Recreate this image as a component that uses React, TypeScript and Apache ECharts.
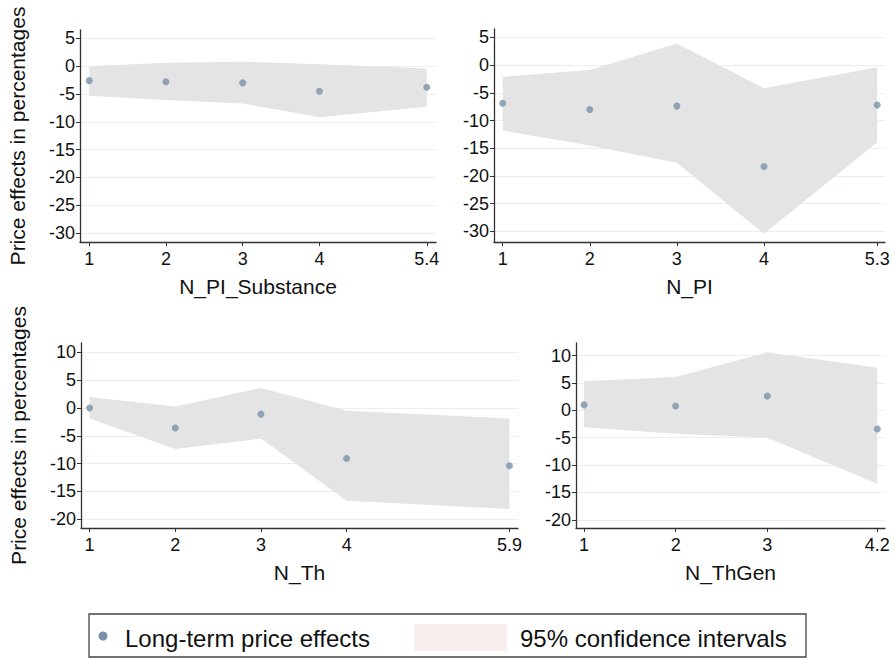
import React, { useEffect, useRef } from "react";
import * as echarts from "echarts";

// ---------- data ----------
const panelNames = ["N_PI_Substance", "N_PI", "N_Th", "N_ThGen"];

const xs1 = [1, 2, 3, 4, 5.4];
const est1 = [-2.6, -2.8, -3.0, -4.5, -3.8];
const lo1 = [-5.3, -6.1, -6.7, -9.2, -7.3];
const hi1 = [0.0, 0.6, 0.8, 0.35, -0.4];

const xs2 = [1, 2, 3, 4, 5.3];
const est2 = [-6.9, -8.0, -7.4, -18.3, -7.2];
const lo2 = [-11.8, -14.5, -17.6, -30.4, -13.9];
const hi2 = [-2.1, -0.9, 3.9, -4.2, -0.4];

const xs3 = [1, 2, 3, 4, 5.9];
const est3 = [0.0, -3.6, -1.1, -9.1, -10.4];
const lo3 = [-1.9, -7.4, -5.5, -16.7, -18.2];
const hi3 = [2.0, 0.25, 3.6, -0.5, -1.9];

const xs4 = [1, 2, 3, 4.2];
const est4 = [1.0, 0.8, 2.6, -3.4];
const lo4 = [-3.1, -4.3, -5.0, -13.4];
const hi4 = [5.3, 6.1, 10.6, 7.8];

const yTicksTop = [-30, -25, -20, -15, -10, -5, 0, 5];
const yTicksBottom = [-20, -15, -10, -5, 0, 5, 10];

const yTitle = "Price effects in percentages";
const legendLabels = ["Long-term price effects", "95% confidence intervals"];

// ---------- style ----------
const FONT = "'Liberation Sans', Arial, sans-serif";
const DOT = "#7b91a9";
const BAND = "#e4e4e4";
const GRIDLINE = "#e6eff1";
const AXIS = "#333333";

const panels = [
  { xs: xs1, est: est1, lo: lo1, hi: hi1, yt: yTicksTop, grid: { left: 80, top: 30, width: 356, height: 212 }, x: [0.88, 5.52], y: [-31.6, 6.5], title: true },
  { xs: xs2, est: est2, lo: lo2, hi: hi2, yt: yTicksTop, grid: { left: 494, top: 29, width: 391, height: 213 }, x: [0.9, 5.39], y: [-31.9, 6.5], title: false },
  { xs: xs3, est: est3, lo: lo3, hi: hi3, yt: yTicksBottom, grid: { left: 81, top: 343, width: 437, height: 185 }, x: [0.9, 6.0], y: [-21.6, 11.7], title: true },
  { xs: xs4, est: est4, lo: lo4, hi: hi4, yt: yTicksBottom, grid: { left: 576, top: 343, width: 309, height: 185 }, x: [0.913, 4.284], y: [-21.5, 12.3], title: false },
];

export default function App() {
  const ref = useRef<HTMLDivElement>(null);
  useEffect(() => {
    const chart = echarts.init(ref.current!, null, { renderer: "svg" });
    const grid: any[] = [];
    const xAxis: any[] = [];
    const yAxis: any[] = [];
    const series: any[] = [];
    panels.forEach((p, i) => {
      grid.push({ ...p.grid, containLabel: false });
      xAxis.push({
        type: "value",
        gridIndex: i,
        min: p.x[0],
        max: p.x[1],
        name: panelNames[i],
        nameLocation: "middle",
        nameGap: 34,
        nameTextStyle: { fontFamily: FONT, fontSize: 21, color: "#111" },
        axisLine: { show: true, onZero: false, lineStyle: { color: AXIS, width: 1.3 } },
        axisTick: { show: true, length: 4, customValues: p.xs, lineStyle: { color: AXIS } },
        axisLabel: { customValues: p.xs, fontFamily: FONT, fontSize: 18, color: "#111", margin: 8 },
        splitLine: { show: false },
      });
      yAxis.push({
        type: "value",
        gridIndex: i,
        min: p.y[0],
        max: p.y[1],
        name: p.title ? yTitle : "",
        nameLocation: "middle",
        nameRotate: 90,
        nameGap: 52,
        nameTextStyle: { fontFamily: FONT, fontSize: 21, color: "#111" },
        axisLine: { show: true, onZero: false, lineStyle: { color: AXIS, width: 1.3 } },
        axisTick: { show: true, length: 4, customValues: p.yt, lineStyle: { color: AXIS } },
        axisLabel: { customValues: p.yt, fontFamily: FONT, fontSize: 18, color: "#111", margin: 5 },
        splitLine: { show: true, lineStyle: { color: GRIDLINE, width: 1.2 } },
      });
      series.push({
        type: "custom",
        xAxisIndex: i,
        yAxisIndex: i,
        silent: true,
        z: 1,
        data: p.xs.map((x, j) => [x, p.lo[j], p.hi[j]]),
        encode: { x: 0, y: [1, 2] },
        renderItem: (params: any, api: any) => {
          if (params.dataIndex !== 0) return null;
          const upper = p.xs.map((x, j) => api.coord([x, p.hi[j]]));
          const lower = p.xs.map((x, j) => api.coord([x, p.lo[j]])).reverse();
          return {
            type: "polygon",
            shape: { points: upper.concat(lower) },
            style: { fill: BAND, stroke: null },
          };
        },
      });
      series.push({
        type: "scatter",
        xAxisIndex: i,
        yAxisIndex: i,
        z: 3,
        symbol: "circle",
        symbolSize: 7,
        itemStyle: { color: DOT },
        data: p.xs.map((x, j) => [x, p.est[j]]),
      });
    });

    chart.setOption({
      animation: false,
      backgroundColor: "#ffffff",
      textStyle: { fontFamily: FONT },
      grid,
      xAxis,
      yAxis,
      series,
      graphic: [
        { type: "rect", shape: { x: 89, y: 614, width: 717, height: 43 }, style: { fill: "#fff", stroke: "#444", lineWidth: 1.3 } },
        { type: "circle", shape: { cx: 103, cy: 636, r: 4.5 }, style: { fill: DOT } },
        { type: "text", x: 125, y: 638, style: { text: legendLabels[0], font: `24px ${FONT}`, fill: "#111", verticalAlign: "middle" } },
        { type: "rect", shape: { x: 414, y: 624, width: 93, height: 27 }, style: { fill: "#f9eeee" } },
        { type: "text", x: 520, y: 638, style: { text: legendLabels[1], font: `24px ${FONT}`, fill: "#111", verticalAlign: "middle" } },
      ],
    });
    return () => chart.dispose();
  }, []);
  return <div ref={ref} style={{ position: "fixed", left: 0, top: 0, width: 895, height: 658 }} />;
}
